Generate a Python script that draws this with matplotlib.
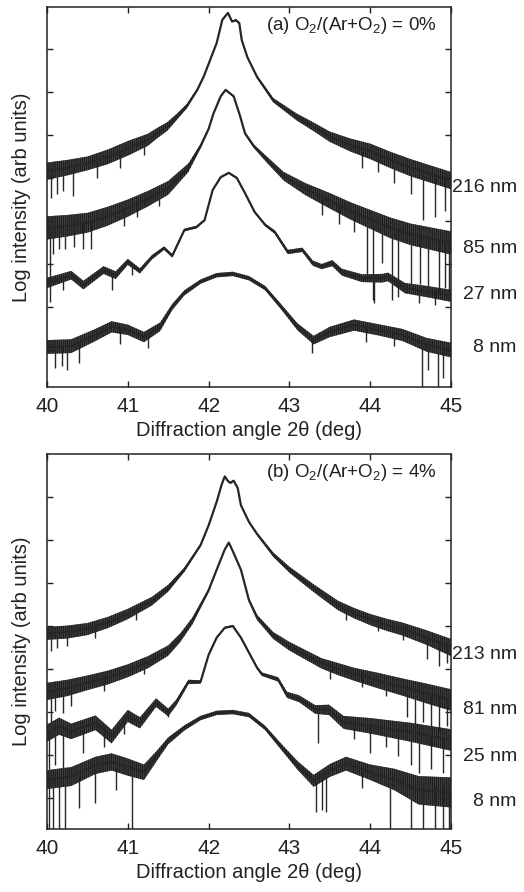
import numpy as np
import matplotlib
matplotlib.use("Agg")
import matplotlib.pyplot as plt
import matplotlib.transforms as mtransforms

plt.rcParams['font.family'] = ['Liberation Sans', 'DejaVu Sans']
plt.rcParams['mathtext.fontset'] = 'custom'
plt.rcParams['mathtext.rm'] = 'Liberation Sans'
plt.rcParams['mathtext.it'] = 'Liberation Sans'
plt.rcParams['hatch.linewidth'] = 1.0

# ---- panel (a): O2/(Ar+O2) = 0% ----
a216_x = [40.0, 40.25, 40.5, 40.75, 41.0, 41.25, 41.36, 41.49, 41.61, 41.73, 41.86, 41.94, 42.02, 42.1, 42.17, 42.24, 42.29, 42.34, 42.38, 42.41, 42.48, 42.6, 42.8, 43.09, 43.3, 43.5, 43.75, 44.0, 44.25, 44.5, 44.75, 45.0]
a216_y = [5.02, 5.1, 5.2, 5.35, 5.55, 5.75, 5.9, 6.06, 6.29, 6.53, 6.91, 7.22, 7.61, 8.0, 8.54, 8.7, 8.5, 8.53, 8.46, 8.07, 7.67, 7.21, 6.67, 6.28, 6.05, 5.82, 5.63, 5.48, 5.28, 5.1, 4.95, 4.8]
a216_n = [0.2, 0.18, 0.16, 0.17, 0.17, 0.14, 0.12, 0.1, 0.07, 0.05, 0.03, 0.02, 0.02, 0.02, 0.02, 0.02, 0.02, 0.02, 0.02, 0.02, 0.02, 0.03, 0.05, 0.08, 0.1, 0.12, 0.15, 0.18, 0.19, 0.2, 0.2, 0.2]

a85_x = [40.0, 40.25, 40.5, 40.75, 41.0, 41.25, 41.5, 41.75, 41.9, 42.0, 42.06, 42.15, 42.21, 42.31, 42.39, 42.45, 42.56, 42.72, 42.93, 43.2, 43.5, 43.75, 44.0, 44.25, 44.5, 44.75, 45.0]
a85_y = [3.7, 3.75, 3.82, 3.97, 4.16, 4.38, 4.63, 5.1, 5.6, 6.0, 6.36, 6.76, 6.91, 6.76, 6.3, 5.9, 5.6, 5.29, 4.9, 4.6, 4.33, 4.1, 3.9, 3.7, 3.55, 3.45, 3.35]
a85_n = [0.27, 0.25, 0.23, 0.22, 0.2, 0.18, 0.16, 0.1, 0.05, 0.03, 0.02, 0.02, 0.02, 0.02, 0.02, 0.03, 0.04, 0.07, 0.1, 0.14, 0.18, 0.2, 0.22, 0.24, 0.25, 0.26, 0.27]

a27_x = [40.0, 40.3, 40.45, 40.7, 40.85, 41.0, 41.15, 41.3, 41.45, 41.55, 41.7, 41.85, 41.95, 42.05, 42.15, 42.25, 42.35, 42.45, 42.57, 42.7, 42.82, 42.98, 43.16, 43.29, 43.4, 43.53, 43.65, 43.9, 44.15, 44.22, 44.43, 44.7, 45.0]
a27_y = [2.42, 2.6, 2.37, 2.72, 2.6, 2.91, 2.7, 3.02, 3.23, 3.05, 3.65, 3.72, 3.88, 4.58, 4.88, 4.98, 4.86, 4.51, 4.07, 3.77, 3.6, 3.14, 3.19, 2.88, 2.8, 2.88, 2.67, 2.53, 2.53, 2.56, 2.3, 2.22, 2.12]
a27_n = [0.12, 0.1, 0.1, 0.09, 0.09, 0.07, 0.06, 0.05, 0.04, 0.04, 0.03, 0.03, 0.02, 0.02, 0.02, 0.02, 0.02, 0.02, 0.02, 0.03, 0.04, 0.05, 0.05, 0.06, 0.06, 0.07, 0.08, 0.09, 0.1, 0.1, 0.12, 0.13, 0.14]

a8_x = [40.0, 40.3, 40.6, 40.8, 41.0, 41.2, 41.4, 41.55, 41.7, 41.9, 42.1, 42.3, 42.5, 42.7, 42.9, 43.1, 43.3, 43.5, 43.8, 44.1, 44.4, 44.7, 45.0]
a8_y = [0.93, 0.95, 1.21, 1.4, 1.33, 1.16, 1.4, 1.86, 2.19, 2.45, 2.6, 2.63, 2.53, 2.3, 1.86, 1.4, 1.09, 1.28, 1.44, 1.33, 1.21, 0.98, 0.86]
a8_n = [0.16, 0.16, 0.14, 0.13, 0.12, 0.12, 0.1, 0.07, 0.06, 0.05, 0.05, 0.05, 0.05, 0.05, 0.06, 0.08, 0.1, 0.12, 0.13, 0.13, 0.14, 0.16, 0.17]

# downward glitches (x, low, high)
a216_sp = [(40.05, 4.4, 5.0), (40.12, 4.5, 5.0), (40.2, 4.55, 5.05), (40.32, 4.45, 5.1), (40.62, 4.85, 5.25),
           (40.9, 5.1, 5.45), (41.2, 5.4, 5.7), (43.9, 5.1, 5.5), (44.1, 5.0, 5.4), (44.3, 4.75, 5.3),
           (44.5, 4.5, 5.1), (44.65, 3.88, 5.0), (44.8, 3.95, 4.95), (44.93, 4.1, 4.9)]
a85_sp = [(40.04, 1.98, 3.7), (40.08, 3.1, 3.7), (40.15, 3.2, 3.75), (40.22, 3.2, 3.75), (40.33, 3.25, 3.8),
          (40.45, 3.2, 3.8), (40.55, 3.2, 3.85), (40.95, 3.75, 4.1), (41.12, 3.95, 4.3), (41.38, 4.2, 4.5),
          (43.4, 4.0, 4.4), (43.62, 3.8, 4.2), (43.8, 3.6, 4.0),
          (43.96, 2.56, 3.9), (44.03, 2.02, 3.9), (44.15, 2.88, 3.8),
          (44.27, 2.02, 3.7), (44.34, 2.09, 3.7), (44.5, 2.3, 3.6), (44.62, 2.4, 3.55), (44.72, 2.3, 3.5),
          (44.85, 2.2, 3.45), (44.93, 2.3, 3.4), (44.98, 2.2, 3.5)]
a27_sp = [(40.2, 2.25, 2.55), (40.8, 2.25, 2.6), (41.05, 2.6, 2.85), (44.05, 1.95, 2.55), (44.6, 1.95, 2.3),
          (44.8, 1.9, 2.25)]
a8_sp = [(40.1, 0.45, 0.95), (40.18, 0.5, 0.95), (40.25, 0.4, 0.95), (40.4, 0.55, 1.0), (40.9, 1.0, 1.35),
         (41.25, 0.9, 1.2), (43.28, 0.8, 1.1), (43.95, 1.05, 1.4), (44.3, 0.95, 1.25),
         (44.64, 0.0, 0.95), (44.72, 0.4, 0.95), (44.84, 0.0, 0.9), (44.9, 0.2, 0.9)]

# ---- panel (b): O2/(Ar+O2) = 4% ----
b213_x = [40.0, 40.25, 40.5, 40.75, 41.0, 41.3, 41.5, 41.7, 41.9, 42.0, 42.1, 42.16, 42.2, 42.24, 42.27, 42.31, 42.36, 42.4, 42.5, 42.6, 42.8, 43.0, 43.3, 43.6, 43.8, 44.0, 44.2, 44.4, 44.7, 45.0]
b213_y = [4.55, 4.58, 4.65, 4.8, 5.0, 5.3, 5.6, 6.03, 6.6, 7.06, 7.61, 8.0, 8.2, 8.09, 8.05, 8.1, 7.93, 7.53, 7.14, 6.86, 6.38, 6.03, 5.6, 5.2, 5.02, 4.87, 4.75, 4.65, 4.45, 4.22]
b213_n = [0.15, 0.15, 0.14, 0.13, 0.12, 0.1, 0.08, 0.05, 0.03, 0.02, 0.02, 0.02, 0.02, 0.02, 0.02, 0.02, 0.02, 0.02, 0.02, 0.03, 0.05, 0.07, 0.09, 0.11, 0.12, 0.13, 0.14, 0.15, 0.17, 0.2]

b81_x = [40.0, 40.25, 40.5, 40.75, 41.0, 41.25, 41.5, 41.65, 41.8, 42.0, 42.1, 42.2, 42.25, 42.3, 42.4, 42.5, 42.6, 42.8, 43.0, 43.2, 43.4, 43.6, 43.8, 44.1, 44.4, 44.7, 45.0]
b81_y = [3.2, 3.28, 3.4, 3.52, 3.68, 3.88, 4.15, 4.45, 4.84, 5.55, 6.03, 6.5, 6.66, 6.46, 6.03, 5.32, 4.92, 4.5, 4.25, 4.05, 3.85, 3.72, 3.6, 3.45, 3.3, 3.15, 3.0]
b81_n = [0.2, 0.19, 0.17, 0.16, 0.15, 0.14, 0.12, 0.1, 0.08, 0.04, 0.03, 0.02, 0.02, 0.02, 0.03, 0.04, 0.06, 0.08, 0.1, 0.11, 0.12, 0.14, 0.15, 0.18, 0.2, 0.23, 0.25]

b25_x = [40.0, 40.15, 40.3, 40.6, 40.8, 41.0, 41.15, 41.35, 41.5, 41.6, 41.75, 41.9, 42.0, 42.1, 42.2, 42.3, 42.4, 42.5, 42.6, 42.66, 42.86, 42.97, 43.12, 43.32, 43.49, 43.67, 44.0, 44.5, 45.0]
b25_y = [2.23, 2.39, 2.27, 2.47, 2.15, 2.63, 2.47, 2.94, 2.71, 2.94, 3.42, 3.42, 4.05, 4.45, 4.68, 4.72, 4.45, 4.1, 3.75, 3.6, 3.48, 3.12, 3.03, 2.78, 2.77, 2.48, 2.4, 2.25, 2.07]
b25_n = [0.2, 0.2, 0.18, 0.17, 0.16, 0.14, 0.13, 0.1, 0.09, 0.07, 0.05, 0.04, 0.03, 0.02, 0.02, 0.02, 0.02, 0.02, 0.03, 0.04, 0.05, 0.07, 0.08, 0.1, 0.12, 0.15, 0.18, 0.22, 0.25]

b8_x = [40.0, 40.3, 40.6, 40.8, 41.0, 41.2, 41.35, 41.5, 41.7, 41.9, 42.1, 42.3, 42.5, 42.7, 42.9, 43.1, 43.3, 43.5, 43.7, 44.0, 44.3, 44.6, 45.0]
b8_y = [1.15, 1.22, 1.48, 1.56, 1.44, 1.32, 1.68, 2.05, 2.35, 2.58, 2.7, 2.72, 2.65, 2.35, 1.91, 1.48, 1.12, 1.36, 1.52, 1.32, 1.15, 0.9, 0.85]
b8_n = [0.22, 0.22, 0.2, 0.2, 0.2, 0.18, 0.12, 0.08, 0.06, 0.05, 0.05, 0.05, 0.05, 0.05, 0.07, 0.1, 0.14, 0.15, 0.16, 0.18, 0.25, 0.33, 0.35]

b213_sp = [(40.05, 4.15, 4.6), (40.12, 4.2, 4.6), (40.25, 4.25, 4.65), (40.6, 4.45, 4.75), (41.1, 4.85, 5.15),
           (43.7, 4.85, 5.2), (44.1, 4.6, 4.9), (44.4, 4.4, 4.75),
           (44.7, 3.95, 4.45), (44.85, 3.8, 4.4), (44.95, 3.85, 4.3)]
b81_sp = [(40.05, 2.5, 3.2), (40.1, 2.75, 3.2), (40.2, 2.7, 3.25), (40.3, 2.85, 3.3), (40.7, 3.2, 3.55),
          (41.2, 3.6, 3.95), (43.5, 3.5, 3.85), (43.9, 3.3, 3.65), (44.2, 3.1, 3.5), (44.45, 2.6, 3.3),
          (44.55, 2.3, 3.25), (44.65, 2.5, 3.2), (44.75, 2.3, 3.15), (44.85, 2.25, 3.1), (44.95, 2.4, 3.05)]
b25_sp = [(40.03, 1.4, 2.3), (40.1, 1.5, 2.35), (40.2, 1.37, 2.35), (40.45, 1.77, 2.3), (40.7, 1.9, 2.4),
          (40.95, 2.2, 2.6), (41.5, 2.6, 2.8), (43.35, 2.0, 2.7), (43.8, 2.1, 2.5), (44.0, 1.77, 2.4),
          (44.2, 1.9, 2.35), (44.35, 1.7, 2.3), (44.5, 1.5, 2.25),
          (44.6, 1.3, 2.2), (44.75, 1.4, 2.15), (44.9, 1.3, 2.1)]
b8_sp = [(40.02, 0.0, 1.2), (40.08, 0.0, 1.2), (40.15, 0.0, 1.25), (40.22, 0.0, 1.2), (40.4, 0.5, 1.25),
         (40.6, 0.6, 1.4), (40.85, 0.9, 1.45), (41.05, 0.0, 1.4), (43.33, 0.4, 1.1), (43.4, 0.45, 1.2),
         (43.45, 0.4, 1.25), (43.9, 0.95, 1.35), (44.25, 0.0, 1.2), (44.5, 0.0, 1.1), (44.65, 0.0, 1.05),
         (44.8, 0.0, 1.0), (44.9, 0.0, 1.0), (44.97, 0.0, 1.0)]

a_labels = ['216 nm', '85 nm', '27 nm', '8 nm']
a_label_y = [4.63, 3.23, 2.14, 0.93]
b_labels = ['213 nm', '81 nm', '25 nm', '8 nm']
b_label_y = [4.05, 2.78, 1.68, 0.65]

a_yticks = [0.86, 1.86, 2.86, 3.86, 4.86, 5.86, 6.86, 7.86]
b_yticks = [0.73, 1.73, 2.73, 3.73, 4.73, 5.73, 6.73, 7.73]

ink = '#262626'


def draw_curve(ax, x, y, n, spikes):
    x = np.array(x)
    y = np.array(y)
    n = np.array(n)
    # noise band of the raw scan
    ax.fill_between(x, y - n, y + n, facecolor='#505050', edgecolor='#1e1e1e',
                    hatch='|' * 8, lw=0)
    ax.plot(x, y, color=ink, lw=1.6)
    for sx, lo, hi in spikes:
        ax.vlines(sx, lo, hi, color=ink, lw=1.0)


def style_axes(ax, ytop, yticks, title, labels, label_y):
    ax.set_xlim(40, 45)
    ax.set_ylim(0, ytop)
    ax.set_xticks([40, 41, 42, 43, 44, 45])
    ax.set_yticks(yticks)
    ax.set_yticklabels([])
    ax.tick_params(direction='in', top=True, right=True, length=4, width=1,
                   labelsize=15, pad=7, colors='#222222')
    for s in ax.spines.values():
        s.set_linewidth(1.1)
        s.set_color('#222222')
    ax.set_xlabel('Diffraction angle 2θ (deg)', fontsize=14.5, color='#222222')
    ax.set_ylabel('Log intensity (arb units)', fontsize=14.5, color='#222222')
    ax.yaxis.set_label_coords(-0.04, 0.5)
    ax.text(0.965, 0.95, title, transform=ax.transAxes, ha='right', va='center',
            fontsize=13.5, color='#222222')
    tr = mtransforms.blended_transform_factory(ax.transAxes, ax.transData)
    for lab, ly in zip(labels, label_y):
        ax.text(1.163, ly, lab, transform=tr, ha='right', va='center',
                fontsize=14, color='#222222', clip_on=False)


fig = plt.figure(figsize=(5.24, 8.92), dpi=100)
ax1 = fig.add_axes([47 / 524, 1 - 387 / 892, 404 / 524, 380 / 892])
ax2 = fig.add_axes([47 / 524, 1 - 829 / 892, 404 / 524, 375 / 892])

draw_curve(ax1, a216_x, a216_y, a216_n, a216_sp)
draw_curve(ax1, a85_x, a85_y, a85_n, a85_sp)
draw_curve(ax1, a27_x, a27_y, a27_n, a27_sp)
draw_curve(ax1, a8_x, a8_y, a8_n, a8_sp)
style_axes(ax1, 380 / 43, a_yticks, '(a) O$_2$/(Ar+O$_2$) = 0%', a_labels, a_label_y)

draw_curve(ax2, b213_x, b213_y, b213_n, b213_sp)
draw_curve(ax2, b81_x, b81_y, b81_n, b81_sp)
draw_curve(ax2, b25_x, b25_y, b25_n, b25_sp)
draw_curve(ax2, b8_x, b8_y, b8_n, b8_sp)
style_axes(ax2, 375 / 43, b_yticks, '(b) O$_2$/(Ar+O$_2$) = 4%', b_labels, b_label_y)

fig.savefig('out.png', dpi=100)
